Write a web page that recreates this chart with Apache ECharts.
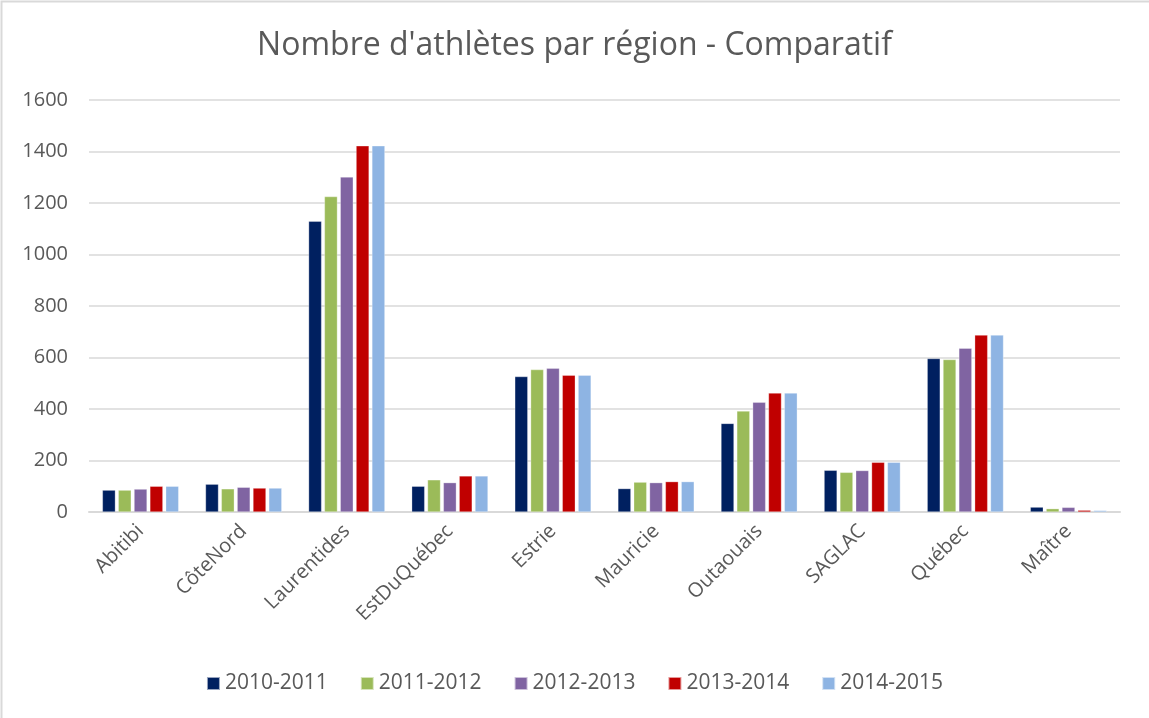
<!DOCTYPE html>
<html>
<head>
<meta charset="utf-8">
<script src="https://cdn.jsdelivr.net/npm/echarts@6/dist/echarts.min.js"></script>
<style>
    html, body { margin: 0; padding: 0; background: #fff; }
    #chart1 { width: 1149px; height: 718px; }
</style>
</head>
<body>
<div id="chart1"></div>
<script>
// regions (x axis)
var regions = ['Abitibi', 'CôteNord', 'Laurentides', 'EstDuQuébec', 'Estrie', 'Mauricie', 'Outaouais', 'SAGLAC', 'Québec', 'Maître'];
// seasons (legend)
var seasons = ['2010-2011', '2011-2012', '2012-2013', '2013-2014', '2014-2015'];
var seasonColors = ['#002060', '#9BBB59', '#8064A2', '#C00000', '#8EB4E3'];

// athletes per region, one array per season
var s2010 = [85, 108, 1129, 100, 526, 91, 344, 162, 596, 19];
var s2011 = [85, 90, 1225, 125, 553, 116, 392, 154, 592, 13];
var s2012 = [89, 96, 1301, 114, 558, 114, 426, 161, 636, 18];
var s2013 = [100, 93, 1422, 140, 531, 118, 462, 193, 687, 7];
var s2014 = [100, 93, 1422, 140, 531, 118, 462, 193, 687, 6];

var yTicks = [0, 200, 400, 600, 800, 1000, 1200, 1400, 1600];

var seriesData = [s2010, s2011, s2012, s2013, s2014];
var fontName = '"Open Sans", "Liberation Sans", sans-serif';

function drawChart() {
    var myChart = echarts.init(document.getElementById('chart1'));
    var series = [];
    for (var i = 0; i < seasons.length; i++) {
        series.push({
            name: seasons[i],
            type: 'bar',
            data: seriesData[i],
            barGap: '22%',
            barCategoryGap: '26%',
            itemStyle: {
                color: seasonColors[i],
                borderColor: 'rgba(255,255,255,0.6)',
                borderWidth: 0.5
            }
        });
    }

    var option = {
        animation: false,
        color: seasonColors,
        title: {
            text: "Nombre d'athlètes par région - Comparatif",
            left: 'center',
            top: 25,
            textStyle: {
                fontFamily: fontName,
                fontSize: 32,
                fontWeight: 'normal',
                color: '#595959'
            }
        },
        legend: {
            data: seasons,
            top: 668,
            left: 'center',
            itemWidth: 13,
            itemHeight: 13,
            itemGap: 32,
            icon: 'rect',
            textStyle: {
                fontFamily: fontName,
                fontSize: 21,
                color: '#595959'
            }
        },
        grid: {
            left: 89,
            right: 29,
            top: 100,
            bottom: 206,
            containLabel: false
        },
        xAxis: {
            type: 'category',
            data: regions,
            axisLine: { lineStyle: { color: '#d9d9d9', width: 2 } },
            axisTick: { show: false },
            axisLabel: {
                rotate: 45,
                margin: 16,
                fontFamily: fontName,
                fontSize: 20,
                color: '#595959'
            }
        },
        yAxis: {
            type: 'value',
            min: yTicks[0],
            max: yTicks[yTicks.length - 1],
            interval: 200,
            axisLine: { show: false },
            axisTick: { show: false },
            splitLine: { lineStyle: { color: '#d9d9d9', width: 1.5 } },
            axisLabel: {
                margin: 21,
                fontFamily: fontName,
                fontSize: 20,
                color: '#595959',
                formatter: function (v) { return String(v); }
            }
        },
        graphic: [{
            type: 'rect',
            shape: { x: 1.5, y: 1.5, width: 1170, height: 740 },
            style: { fill: 'none', stroke: '#d9d9d9', lineWidth: 2 },
            silent: true
        }],
        series: series
    };
    myChart.setOption(option);
}

drawChart();
</script>
</body>
</html>
